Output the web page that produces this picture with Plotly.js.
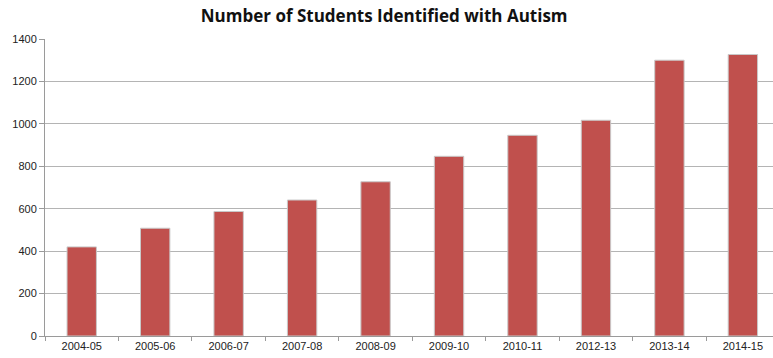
<!DOCTYPE html>
<html>
<head>
<meta charset="utf-8">
<script src="https://cdn.plot.ly/plotly-3.0.1.min.js"></script>
<style>
html,body{margin:0;padding:0;background:#fff;}
#chart{width:773px;height:358px;}
</style>
</head>
<body>
<div id="chart"></div>
<script>
const years = ["2004-05","2005-06","2006-07","2007-08","2008-09","2009-10","2010-11","2012-13","2013-14","2014-15"];
const students = [420, 508, 587, 641, 727, 847, 946, 1017, 1300, 1327];
const yTicks = [0, 200, 400, 600, 800, 1000, 1200, 1400];
const chartTitle = "Number of Students Identified with Autism";

const data = [{
  type: "bar",
  x: years,
  y: students,
  width: 0.4,
  marker: {color: "#C0504D", line: {color: "#c9c9c9", width: 1}},
  hoverinfo: "x+y"
}];

const layout = {
  width: 773,
  height: 358,
  margin: {l: 45, r: 0, t: 39, b: 22},
  paper_bgcolor: "#fff",
  plot_bgcolor: "#fff",
  showlegend: false,
  title: {
    text: "<b>" + chartTitle + "</b>",
    x: 0.497, xanchor: "center",
    y: 0.955, yanchor: "middle",
    font: {family: "Open Sans, sans-serif", size: 17, color: "#111"}
  },
  xaxis: {
    type: "category",
    range: [-0.5, 9.41],
    showline: true, linecolor: "#9a9a9a", linewidth: 1,
    ticks: "outside", tickson: "boundaries", ticklen: 4, tickcolor: "#9a9a9a",
    showgrid: false, zeroline: false,
    tickfont: {family: "Liberation Sans Narrow, sans-serif", size: 11, color: "#222"}
  },
  yaxis: {
    range: [0, 1400],
    tickvals: yTicks,
    ticktext: yTicks.map(String),
    showline: true, linecolor: "#9a9a9a", linewidth: 1,
    ticks: "outside", ticklen: 5, tickcolor: "#9a9a9a",
    showgrid: true, gridcolor: "#b4b4b4", gridwidth: 1,
    zeroline: false,
    tickfont: {family: "Liberation Sans Narrow, sans-serif", size: 11, color: "#222"}
  }
};

Plotly.newPlot("chart", data, layout, {displayModeBar: false, staticPlot: true});
</script>
</body>
</html>
